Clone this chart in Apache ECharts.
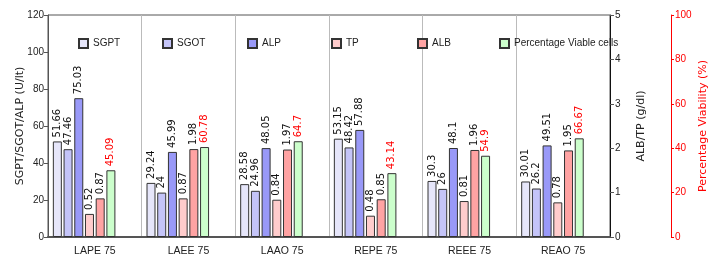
<!DOCTYPE html>
<html>
<head>
<meta charset="utf-8">
<script src="https://cdn.jsdelivr.net/npm/echarts@6/dist/echarts.min.js"></script>
<style>
html,body{margin:0;padding:0;background:#fff;}
#chart{width:713px;height:262px;}
</style>
</head>
<body>
<div id="chart"></div>
<script>
// 数据
var categories = ['LAPE 75', 'LAEE 75', 'LAAO 75', 'REPE 75', 'REEE 75', 'REAO 75'];
var sgpt = [51.66, 29.24, 28.58, 53.15, 30.3, 30.01];
var sgot = [47.46, 24, 24.96, 48.42, 26, 26.2];
var alp = [75.03, 45.99, 48.05, 57.88, 48.1, 49.51];
var tp = [0.52, 0.87, 0.84, 0.48, 0.81, 0.78];
var alb = [0.87, 1.98, 1.97, 0.85, 1.96, 1.95];
var viable = [45.09, 60.78, 64.7, 43.14, 54.9, 66.67];

var narrow = "'Liberation Sans',sans-serif";
var seriesNames = ['SGPT', 'SGOT', 'ALP', 'TP', 'ALB', 'Percentage Viable cells'];
var legendLeft = [78, 162, 247, 331, 417, 499];

function barSeries(name, data, yIdx, color, labelColor){
    return {
        name: name,
        type: 'bar',
        yAxisIndex: yIdx,
        data: data,
        barWidth: 9,
        barGap: '19%',
        itemStyle: {color: color, borderColor: '#333', borderWidth: 1},
        label: {
            show: true,
            position: 'top',
            rotate: 90,
            align: 'left',
            verticalAlign: 'middle',
            distance: 4,
            fontFamily: 'DejaVu Sans',
            fontSize: 10,
            color: labelColor
        }
    };
}

var series = [
    barSeries('SGPT', sgpt, 0, '#E6E6FA', '#111'),
    barSeries('SGOT', sgot, 0, '#C4C4F8', '#111'),
    barSeries('ALP', alp, 0, '#9999F8', '#111'),
    barSeries('TP', tp, 1, '#FFCCCC', '#111'),
    barSeries('ALB', alb, 1, '#FFA3A3', '#111'),
    barSeries('Percentage Viable cells', viable, 2, '#CCFFCC', '#FF0000'),
    //空白占位
    {type: 'bar', name: 'pad1', data: [], barWidth: 9, barGap: '19%'},
    {type: 'bar', name: 'pad2', data: [], barWidth: 9, barGap: '19%'}
];

var legends = [];
for (var i = 0; i < seriesNames.length; i++) {
    legends.push({
        data: [seriesNames[i]],
        left: legendLeft[i],
        top: 38,
        padding: 0,
        icon: 'rect',
        itemWidth: 9,
        itemHeight: 9,
        itemGap: 0,
        textStyle: {fontFamily: narrow, fontSize: 10, color: '#222'}
    });
}

var option = {
    animation: false,
    backgroundColor: '#fff',
    grid: {left: 48, right: 103, top: 15, bottom: 25, show: true, borderColor: '#555', borderWidth: 1, outerBoundsMode: 'none', containLabel: false},
    legend: legends,
    xAxis: {
        type: 'category',
        data: categories,
        axisLine: {lineStyle: {color: '#555', width: 2}},
        axisTick: {alignWithLabel: true, length: 4, lineStyle: {color: '#555'}},
        splitLine: {show: true, lineStyle: {color: '#bbb', width: 1}},
        axisLabel: {fontFamily: narrow, fontSize: 10.5, color: '#222', margin: 9}
    },
    yAxis: [
        {
            type: 'value', position: 'left', min: 0, max: 120, interval: 20,
            name: 'SGPT/SGOT/ALP (U/lt)', nameLocation: 'middle', nameRotate: 90, nameGap: 22,
            nameMoveOverlap: false,
            nameTextStyle: {fontFamily: 'DejaVu Sans', fontSize: 11, color: '#222'},
            axisLine: {show: true, lineStyle: {color: '#555'}},
            axisTick: {show: true, length: 4, lineStyle: {color: '#555'}},
            splitLine: {show: false},
            axisLabel: {fontFamily: narrow, fontSize: 10, color: '#222', margin: 4}
        },
        {
            type: 'value', position: 'right', min: 0, max: 5, interval: 1,
            name: 'ALB/TP (g/dl)', nameLocation: 'middle', nameRotate: 90, nameGap: 26,
            nameMoveOverlap: false,
            nameTextStyle: {fontFamily: 'DejaVu Sans', fontSize: 11, color: '#222'},
            axisLine: {show: true, lineStyle: {color: '#111'}},
            axisTick: {show: true, length: 4, lineStyle: {color: '#555'}},
            splitLine: {show: false},
            axisLabel: {fontFamily: narrow, fontSize: 10, color: '#222', margin: 5}
        },
        {
            type: 'value', min: 0, max: 150, show: false, splitLine: {show: false}
        },
        {
            type: 'value', position: 'right', offset: 61, min: 0, max: 100, interval: 20,
            name: 'Percentage Viability (%)', nameLocation: 'middle', nameRotate: 90, nameGap: 27,
            nameMoveOverlap: false,
            nameTextStyle: {fontFamily: 'DejaVu Sans', fontSize: 11, color: '#FF0000'},
            axisLine: {show: true, lineStyle: {color: '#FF0000'}},
            axisTick: {show: true, length: 3, lineStyle: {color: '#FF0000'}},
            splitLine: {show: false},
            axisLabel: {fontFamily: narrow, fontSize: 10, color: '#FF0000', margin: 4}
        }
    ],
    series: series
};

var chart = echarts.init(document.getElementById('chart'));
chart.setOption(option);
</script>
</body>
</html>
